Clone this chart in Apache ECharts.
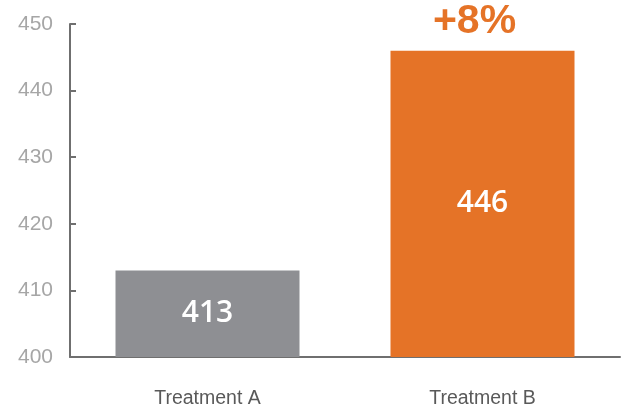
<!DOCTYPE html>
<html>
<head>
<meta charset="utf-8">
<script src="https://cdn.jsdelivr.net/npm/echarts@6/dist/echarts.min.js"></script>
<style>
  html, body { margin: 0; padding: 0; background: #fff; }
  #chart { width: 626px; height: 409px; }
</style>
</head>
<body>
<div id="chart"></div>
<script>
const categories = ['Treatment A', 'Treatment B']
const values = [413, 446]
const barColors = ['#8e8f93', '#e57327']
const changeLabel = '+8%'

const myChart = echarts.init(document.getElementById('chart'))
const option = {
  animation: false,
  grid: {
    left: 70,
    right: 6,
    top: 24,
    bottom: 51
  },
  xAxis: {
    type: 'category',
    data: categories,
    axisLine: { lineStyle: { color: '#6f6f6f', width: 2 } },
    axisTick: { inside: true, length: 6, lineStyle: { color: '#6f6f6f', width: 2 } },
    axisLabel: {
      color: '#595959',
      fontFamily: 'Liberation Sans',
      fontSize: 19.5,
      margin: 32
    }
  },
  yAxis: {
    type: 'value',
    min: 400,
    max: 450,
    interval: 10,
    splitLine: { show: false },
    axisLine: { show: true, lineStyle: { color: '#6f6f6f', width: 2 } },
    axisTick: { show: true, inside: true, length: 6, lineStyle: { color: '#6f6f6f', width: 2 } },
    axisLabel: {
      color: '#a6a6a6',
      fontFamily: 'Liberation Sans',
      fontSize: 21,
      margin: 17
    }
  },
  series: [
    {
      type: 'bar',
      barWidth: 184,
      data: values.map((v, i) => ({ value: v, itemStyle: { color: barColors[i] } })),
      label: {
        show: true,
        position: 'inside',
        color: '#fff',
        fontFamily: 'Open Sans',
        fontWeight: 600,
        fontSize: 30
      },
      markPoint: {
        symbol: 'circle',
        symbolSize: 0,
        data: [{ coord: [categories[1], values[1]], value: changeLabel }],
        label: {
          show: true,
          position: 'top',
          distance: 8,
          offset: [-8, 0],
          formatter: changeLabel,
          color: '#e57327',
          fontFamily: 'Liberation Sans',
          fontWeight: 'bold',
          fontSize: 41
        }
      }
    }
  ]
}
option && myChart.setOption(option)
</script>
</body>
</html>
